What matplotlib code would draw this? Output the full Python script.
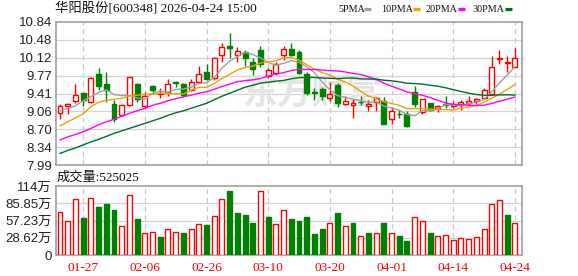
import numpy as np
import pandas as pd
import matplotlib
matplotlib.use("Agg")
import matplotlib.pyplot as plt
from matplotlib.lines import Line2D

plt.rcParams['font.family'] = ['Liberation Sans', 'Noto Sans CJK SC']

# ---- data ----
opens = [9.02, 9.17, 9.26, 9.42, 9.24, 9.80, 9.60, 9.21, 8.99, 9.19,
         9.60, 9.17, 9.56, 9.41, 9.45, 9.64, 9.60, 9.49, 9.65, 9.84,
         9.72, 10.18, 10.36, 10.18, 10.25, 10.05, 10.28, 9.77, 9.83, 10.18,
         10.30, 10.25, 9.80, 9.44, 9.50, 9.32, 9.58, 9.21, 9.19, 9.25,
         9.17, 9.25, 9.27, 8.90, 9.01, 9.00, 9.45, 9.05, 9.22, 9.12,
         9.20, 9.17, 9.20, 9.23, 9.27, 9.32, 9.40, 10.11, 10.03, 9.95]
highs = [9.20, 9.23, 9.60, 9.43, 9.75, 9.93, 9.84, 9.29, 9.21, 9.75,
         9.63, 9.45, 9.58, 9.52, 9.70, 9.67, 9.62, 9.70, 9.97, 10.00,
         10.14, 10.42, 10.62, 10.35, 10.28, 10.12, 10.37, 9.92, 10.04, 10.37,
         10.43, 10.28, 9.85, 9.53, 9.55, 9.65, 9.62, 9.37, 9.31, 9.37,
         9.29, 9.35, 9.35, 9.15, 9.09, 9.07, 9.56, 9.31, 9.23, 9.19,
         9.37, 9.27, 9.28, 9.36, 9.33, 9.52, 10.16, 10.28, 10.17, 10.32]
lows = [8.90, 9.01, 9.22, 9.17, 9.23, 9.49, 9.24, 8.85, 8.97, 9.17,
        9.25, 9.13, 9.41, 9.32, 9.37, 9.54, 9.35, 9.47, 9.64, 9.68,
        9.68, 10.05, 10.12, 10.04, 9.96, 9.78, 9.95, 9.72, 9.78, 10.08,
        10.16, 9.80, 9.39, 9.29, 9.29, 9.27, 9.15, 9.19, 8.92, 9.18,
        9.07, 9.07, 8.81, 8.81, 8.92, 8.75, 9.15, 9.00, 9.07, 9.04,
        9.13, 9.12, 9.09, 9.19, 9.20, 9.31, 9.39, 10.00, 9.85, 9.94]
closes = [9.17, 9.20, 9.39, 9.29, 9.72, 9.57, 9.49, 8.90, 9.19, 9.74,
          9.31, 9.37, 9.48, 9.43, 9.60, 9.62, 9.39, 9.65, 9.80, 9.70,
          10.12, 10.34, 10.33, 10.27, 10.12, 9.90, 10.00, 9.88, 10.00, 10.30,
          10.18, 9.82, 9.43, 9.42, 9.37, 9.41, 9.23, 9.27, 9.23, 9.24,
          9.21, 9.32, 8.81, 9.07, 9.00, 8.77, 9.21, 9.31, 9.09, 9.17,
          9.19, 9.20, 9.24, 9.26, 9.31, 9.49, 9.94, 10.13, 10.05, 10.12]
# volume in 万股
volumes = [71.3, 56.4, 92.9, 61.4, 94.6, 79.6, 84.6, 75.2, 48.1, 99.5,
           59.7, 35.9, 37.6, 29.9, 43.1, 37.6, 36.5, 43.1, 51.4, 49.8,
           64.1, 92.9, 106.7, 69.7, 66.4, 53.1, 106.2, 63.0, 51.4, 74.7,
           59.7, 56.4, 63.0, 34.8, 43.1, 52.5, 69.7, 47.6, 53.1, 31.0,
           36.5, 35.9, 53.1, 35.9, 31.5, 23.2, 62.5, 55.9, 35.9, 31.0,
           32.6, 24.9, 27.7, 26.0, 29.3, 43.1, 84.1, 90.7, 66.4, 52.5]

# moving-average values before each window fills
ma5_head = [9.07, 9.12, 9.17, 9.27]
ma10_head = [8.77, 8.85, 8.93, 9.01, 9.15, 9.24, 9.28, 9.30, 9.32]
ma20_head = [8.49, 8.55, 8.60, 8.65, 8.72, 8.79, 8.85, 8.90, 8.96, 9.02,
             9.07, 9.12, 9.18, 9.22, 9.27, 9.31, 9.35, 9.38, 9.42]
ma30_head = [8.22, 8.28, 8.33, 8.39, 8.45, 8.50, 8.56, 8.62, 8.67, 8.72,
             8.77, 8.82, 8.87, 8.92, 8.98, 9.03, 9.07, 9.12, 9.17, 9.22,
             9.29, 9.36, 9.42, 9.48, 9.54, 9.58, 9.62, 9.64, 9.66]

date_pos = [3, 11, 19, 27, 35, 43, 51, 59]
date_labels = ['01-27', '02-06', '02-26', '03-10', '03-20', '04-01', '04-14', '04-24']
price_labels = ['7.99', '8.34', '8.70', '9.06', '9.41', '9.77', '10.12', '10.48', '10.84']
vol_labels = ['0', '28.62万', '57.23万', '85.85万', '114万']
ma_names = ['5PMA', '10PMA', '20PMA', '30PMA']

RED = '#ff0000'
GREEN = '#008000'
FRAME = '#a0a0a0'
GRID = '#d4d4d4'

o = np.array(opens); h = np.array(highs); l = np.array(lows); c = np.array(closes)
x = np.arange(len(c))

cs = pd.Series(c)
mas = []
for n, head in [(5, ma5_head), (10, ma10_head), (20, ma20_head), (30, ma30_head)]:
    m = cs.rolling(n).mean().to_numpy()
    m[:n - 1] = head
    mas.append(m)
ma_colors = ['#a0a0a0', '#f0a000', '#ff00ff', '#006e28']

W, H = 578, 276
fig = plt.figure(figsize=(W / 100, H / 100), dpi=100)
ax = fig.add_axes([56 / W, 1 - 165 / H, 466 / W, 143 / H])
axv = fig.add_axes([56 / W, 1 - 255 / H, 466 / W, 69 / H])

xlim = (-0.52, 59.92)
price_ticks = np.linspace(7.99, 10.84, 9)
vol_ticks = np.linspace(0, 114.47, 5)

for a in (ax, axv):
    a.set_xlim(*xlim)
    for s in a.spines.values():
        s.set_color(FRAME)
        s.set_linewidth(1.2)
    a.tick_params(length=0, pad=3)
    for d in date_pos:
        a.axvline(d, color='#c8c8c8', lw=0.9, ls=(0, (4, 3)), zorder=0)

# ---- price panel ----
ax.set_ylim(7.99, 10.84)
ax.set_yticks(price_ticks)
ax.set_yticklabels(price_labels, fontsize=9.5, color='#222222')
for t in price_ticks[1:-1]:
    ax.axhline(t, color=GRID, lw=0.9, zorder=0)
ax.set_xticks([])

# watermark
ax.text(0.55, 0.50, '东方财富', transform=ax.transAxes, fontsize=25, fontweight='bold',
        family=['Noto Sans CJK SC'], color='#e4e4e4', ha='center', va='center', zorder=0.5,
        style='italic')

up = c >= o
ax.vlines(x, l, h, colors=np.where(up, RED, GREEN), lw=1, zorder=2)
ax.bar(x, np.abs(c - o), bottom=np.minimum(o, c), width=0.64,
       color=np.where(up, 'white', GREEN), edgecolor=np.where(up, RED, GREEN),
       linewidth=1, zorder=3)

for m, col in zip(mas, ma_colors):
    ax.plot(x, m, color=col, lw=1, zorder=4)

# ---- volume panel ----
vol_up = np.concatenate([[True], c[1:] >= c[:-1]])
axv.set_ylim(0, 114.47)
axv.set_yticks(vol_ticks)
axv.set_yticklabels(vol_labels, fontsize=9.5, color='#222222')
for t in vol_ticks[1:-1]:
    axv.axhline(t, color=GRID, lw=0.9, zorder=0)
axv.bar(x, volumes, width=0.64, color=np.where(vol_up, 'white', GREEN),
        edgecolor=np.where(vol_up, RED, GREEN), linewidth=1, zorder=3)
axv.set_xticks(date_pos)
axv.set_xticklabels(date_labels, fontsize=9.5, color=RED, family=['Liberation Serif'])
axv.tick_params(axis='x', pad=5)

# ---- texts ----
fig.text(55 / W, 1 - 8.5 / H, '华阳股份[600348] 2026-04-24 15:00', fontsize=9.6,
         family=['Liberation Serif', 'Noto Sans CJK SC'], va='center', ha='left',
         color='#111111')
fig.text(57 / W, 1 - 178 / H, '成交量:525025', fontsize=9.5,
         family=['Liberation Serif', 'Noto Sans CJK SC'], va='center', ha='left',
         color='#111111')

# legend: label then a small colour swatch
label_x = [338, 381, 426, 472]
swatch_x = [364, 413, 458, 505]
for name, lx, sx, col in zip(ma_names, label_x, swatch_x, ma_colors):
    fig.text(lx / W, 1 - 9 / H, name, fontsize=7.3, family=['Liberation Serif'],
             va='center', ha='left', color='#111111')
    fig.add_artist(Line2D([sx / W, (sx + 7) / W], [1 - 8.5 / H, 1 - 8.5 / H],
                          color=col, lw=2.3, solid_capstyle='butt'))

fig.savefig('out.png', dpi=100)
